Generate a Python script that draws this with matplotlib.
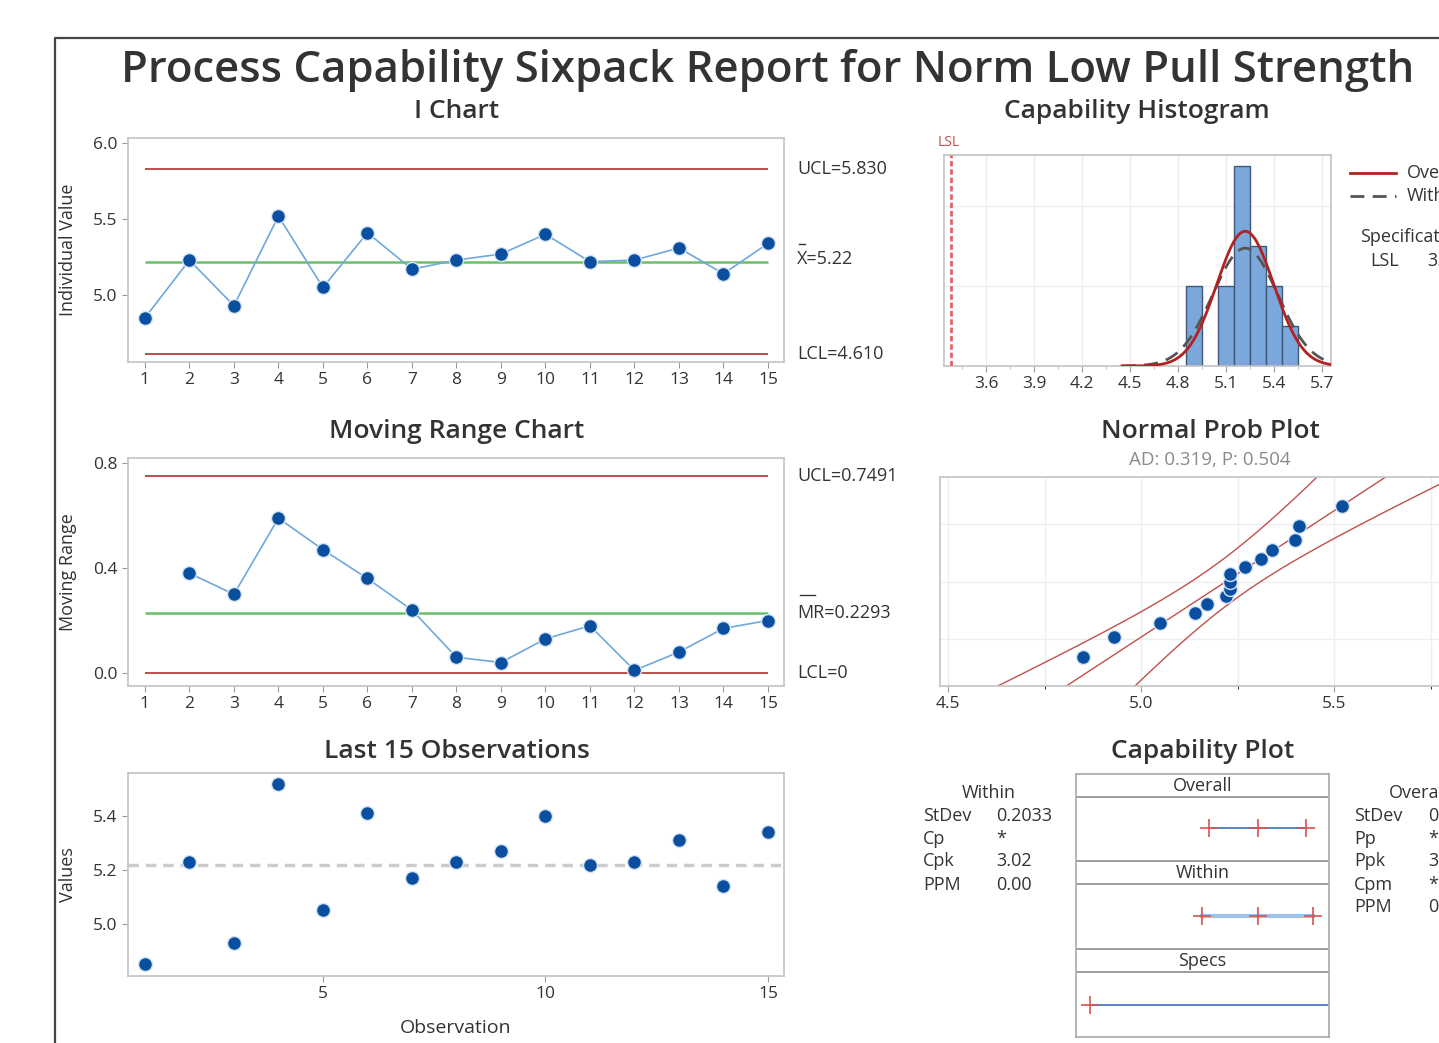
import statistics
import numpy as np
import matplotlib
matplotlib.use('Agg')
import matplotlib.pyplot as plt
from matplotlib.lines import Line2D
from matplotlib import transforms

plt.rcParams['font.family'] = ['Open Sans', 'DejaVu Sans']

# ---- data ----
obs = np.arange(1, 16)
values = [4.85, 5.23, 4.93, 5.52, 5.05, 5.41, 5.17, 5.23, 5.27, 5.40, 5.22, 5.23, 5.31, 5.14, 5.34]
mr_obs = np.arange(2, 16)
moving_range = [0.38, 0.30, 0.59, 0.47, 0.36, 0.24, 0.06, 0.04, 0.13, 0.18, 0.01, 0.08, 0.17, 0.20]

xbar, ucl_i, lcl_i = 5.22, 5.830, 4.610
mr_bar, ucl_mr, lcl_mr = 0.2293, 0.7491, 0.0
lsl = 3.38
sd_within, sd_overall = 0.2033, 0.1778
ad_text = 'AD: 0.319, P: 0.504'
within_stats = [('StDev', '0.2033'), ('Cp', '*'), ('Cpk', '3.02'), ('PPM', '0.00')]
overall_stats = [('StDev', '0.1778'), ('Pp', '*'), ('Ppk', '3.45'), ('Cpm', '*'), ('PPM', '0.00')]
hist_ticks = [3.6, 3.9, 4.2, 4.5, 4.8, 5.1, 5.4, 5.7]

W, H = 1439, 1043
DARK = '#333333'
RED = '#b5413a'
GREEN = '#6abf69'
BLUE_LINE = '#6fa8dc'
DOT = '#0a4ea0'
TITLE = 19
LAB = 13


def box(l, t, r, b):
  return [l / W, 1 - b / H, (r - l) / W, (b - t) / H]


def ft(x, y, s, **kw):
  kw.setdefault('color', DARK)
  kw.setdefault('va', 'center')
  return fig.text(x / W, 1 - y / H, s, **kw)


def style(ax, size=12.5):
  for sp in ax.spines.values():
    sp.set_color('#c4c4c4')
    sp.set_linewidth(1.2)
  ax.tick_params(colors=DARK, labelsize=size, length=4, width=0.8)
  ax.tick_params(color='#9a9a9a')


fig = plt.figure(figsize=(W / 100, H / 100), dpi=100)
fig.patch.set_facecolor('white')

# frame of the report window
fig.add_artist(Line2D([55 / W, 55 / W, 1.01], [-0.01, 1 - 38 / H, 1 - 38 / H],
                      transform=fig.transFigure, color='#444444', lw=1.6))

ft(768, 70, 'Process Capability Sixpack Report for Norm Low Pull Strength',
   ha='center', fontsize=31.5, fontweight='semibold')

# ---------- I chart ----------
ax1 = fig.add_axes(box(128, 138, 784, 362))
style(ax1)
ax1.hlines([ucl_i, lcl_i], 1, 15, color=RED, lw=1.3)
ax1.hlines(xbar, 1, 15, color=GREEN, lw=1.8)
ax1.plot(obs, values, color=BLUE_LINE, lw=1.2, marker='o', ms=10,
         mfc=DOT, mec='#d6e4f5', mew=1, zorder=3)
ax1.set_xlim(0.62, 15.36)
ax1.set_ylim(4.56, 6.033)
ax1.set_xticks(obs)
ax1.set_yticks([5.0, 5.5, 6.0])
ax1.set_yticklabels(['5.0', '5.5', '6.0'])
ax1.set_ylabel('Individual Value', fontsize=LAB, color=DARK)
ax1.yaxis.set_label_coords(-0.078, 0.5)
ft(457, 111, 'I Chart', ha='center', fontsize=TITLE, fontweight='semibold')
tr1 = transforms.blended_transform_factory(ax1.transAxes, ax1.transData)
ax1.text(1.0198, ucl_i, 'UCL=%.3f' % ucl_i, transform=tr1, va='center', fontsize=LAB, color=DARK)
ax1.text(1.0198, xbar + 0.02, 'X=%.2f' % xbar, transform=tr1, va='center', fontsize=LAB, color=DARK)
ax1.text(1.0198, lcl_i, 'LCL=%.3f' % lcl_i, transform=tr1, va='center', fontsize=LAB, color=DARK)
fig.add_artist(Line2D([799 / W, 805 / W], [1 - 244 / H] * 2, transform=fig.transFigure,
                      color=DARK, lw=1))

# ---------- Moving range chart ----------
ax2 = fig.add_axes(box(128, 458, 784, 686))
style(ax2)
ax2.hlines([ucl_mr, lcl_mr], 1, 15, color=RED, lw=1.3)
ax2.hlines(mr_bar, 1, 15, color=GREEN, lw=1.8)
ax2.plot(mr_obs, moving_range, color=BLUE_LINE, lw=1.2, marker='o', ms=10,
         mfc=DOT, mec='#d6e4f5', mew=1, zorder=3)
ax2.set_xlim(0.62, 15.36)
ax2.set_ylim(-0.0495, 0.819)
ax2.set_xticks(obs)
ax2.set_yticks([0.0, 0.4, 0.8])
ax2.set_yticklabels(['0.0', '0.4', '0.8'])
ax2.set_ylabel('Moving Range', fontsize=LAB, color=DARK)
ax2.yaxis.set_label_coords(-0.078, 0.5)
ft(457, 432, 'Moving Range Chart', ha='center', fontsize=TITLE, fontweight='semibold')
tr2 = transforms.blended_transform_factory(ax2.transAxes, ax2.transData)
ax2.text(1.0198, ucl_mr, 'UCL=%.4f' % ucl_mr, transform=tr2, va='center', fontsize=LAB, color=DARK)
ax2.text(1.0198, mr_bar, 'MR=%.4f' % mr_bar, transform=tr2, va='center', fontsize=LAB, color=DARK)
ax2.text(1.0198, lcl_mr, 'LCL=0', transform=tr2, va='center', fontsize=LAB, color=DARK)
fig.add_artist(Line2D([800 / W, 815 / W], [1 - 595 / H] * 2, transform=fig.transFigure,
                      color=DARK, lw=1))

# ---------- Last 15 observations ----------
ax3 = fig.add_axes(box(128, 773, 784, 976))
style(ax3)
ax3.axhline(xbar, color='#cccccc', ls=(0, (3, 2)), lw=2.5)
ax3.plot(obs, values, ls='none', marker='o', ms=10, mfc=DOT, mec='#d6e4f5', mew=1, zorder=3)
ax3.set_xlim(0.618, 15.36)
ax3.set_ylim(4.807, 5.559)
ax3.set_xticks([5, 10, 15])
ax3.set_yticks([5.0, 5.2, 5.4])
ax3.set_yticklabels(['5.0', '5.2', '5.4'])
ax3.set_ylabel('Values', fontsize=LAB, color=DARK)
ax3.yaxis.set_label_coords(-0.078, 0.5)
ax3.set_xlabel('Observation', fontsize=14, color=DARK)
ax3.xaxis.set_label_coords(0.5, -0.21)
ft(457, 752, 'Last 15 Observations', ha='center', fontsize=TITLE, fontweight='semibold')

# ---------- Capability histogram ----------
ax4 = fig.add_axes(box(944, 155, 1331, 366))
style(ax4)
hist_edges = 4.848 + 0.1 * np.arange(8)
ax4.hist(values, bins=hist_edges, color='#7ba7da', edgecolor='#3f5878', lw=1, zorder=2)
xs = np.linspace(4.45, 5.8, 300)
scale = len(values) * 0.1
ov = scale * np.exp(-0.5 * ((xs - xbar) / sd_overall) ** 2) / (sd_overall * np.sqrt(2 * np.pi))
wi = scale * np.exp(-0.5 * ((xs - xbar) / sd_within) ** 2) / (sd_within * np.sqrt(2 * np.pi))
ax4.plot(xs, wi, color='#555555', ls=(0, (5, 3)), lw=2, zorder=3)
ax4.plot(xs, ov, color='#b22222', lw=2, zorder=4)
ax4.axvline(lsl, color='#e06666', ls=(0, (2, 1)), lw=2, zorder=3)
ax4.set_xlim(3.3375, 5.756)
ax4.set_ylim(0, 5.27)
ax4.set_xticks(hist_ticks)
ax4.set_xticklabels(['%.1f' % t for t in hist_ticks])
ax4.set_xticks(np.arange(3.45, 5.75, 0.15), minor=True)
ax4.tick_params(axis='x', which='minor', length=2, color='#bbbbbb')
ax4.set_yticks([2, 4])
ax4.tick_params(axis='y', length=0, labelleft=False)
ax4.grid(True, color='#eeeeee', lw=1, zorder=0)
ax4.set_axisbelow(True)
ft(1137, 111, 'Capability Histogram', ha='center', fontsize=TITLE, fontweight='semibold')
ft(938, 143, 'LSL', fontsize=10, color='#c0504d')
fig.add_artist(Line2D([1350 / W, 1396 / W], [1 - 173 / H] * 2, transform=fig.transFigure,
                      color='#b22222', lw=2))
fig.add_artist(Line2D([1350 / W, 1396 / W], [1 - 196 / H] * 2, transform=fig.transFigure,
                      color='#555555', lw=2, ls=(0, (5, 3))))
ft(1407, 173, 'Overall', fontsize=LAB)
ft(1407, 196, 'Within', fontsize=LAB)
ft(1360, 237, 'Specifications', fontsize=LAB)
ft(1370, 261, 'LSL', fontsize=LAB)
ft(1427, 261, '%.2f' % lsl, fontsize=LAB)

# ---------- Normal probability plot ----------
ax5 = fig.add_axes(box(940, 477, 1480, 686))
style(ax5)
n = len(values)
nd = statistics.NormalDist()
zq = [nd.inv_cdf((i - 0.3) / (n + 0.4)) for i in range(1, n + 1)]
zz = np.linspace(-2.6, 2.6, 200)
fit = xbar + zz * sd_overall
half = 1.96 * sd_overall * np.sqrt(1.0 / n + zz ** 2 / (2 * (n - 1)))
for xx in (fit, fit - half, fit + half):
  ax5.plot(xx, zz, color='#c0504d', lw=1)
ax5.plot(sorted(values), zq, ls='none', marker='o', ms=10, mfc=DOT, mec='#d6e4f5', mew=1, zorder=3)
ax5.set_xlim(4.479, 5.878)
ax5.set_ylim(nd.inv_cdf(0.01), nd.inv_cdf(0.99))
ax5.set_xticks([4.5, 5.0, 5.5])
ax5.set_xticklabels(['4.5', '5.0', '5.5'])
ax5.set_xticks([4.75, 5.25, 5.75], minor=True)
ax5.set_yticks([nd.inv_cdf(p) for p in (0.1, 0.5, 0.9)])
ax5.tick_params(axis='y', length=0, labelleft=False)
ax5.tick_params(axis='x', which='minor', length=2)
ax5.grid(True, which='both', color='#eeeeee', lw=1, zorder=0)
ax5.set_axisbelow(True)
ft(1210, 432, 'Normal Prob Plot', ha='center', fontsize=TITLE, fontweight='semibold')
ft(1210, 460, ad_text, ha='center', fontsize=13.5, color='#8a8a8a')

# ---------- Capability plot ----------
ax6 = fig.add_axes(box(1076, 774, 1329, 1037))
for sp in ax6.spines.values():
  sp.set_color('#a8a8a8')
  sp.set_linewidth(1.2)
ax6.set_xlim(3.23, 6.0)
ax6.set_ylim(1, 0)
ax6.set_xticks([])
ax6.set_yticks([])
for yy in (0.0865, 0.330, 0.420, 0.665, 0.754):
  ax6.axhline(yy, color='#8c8c8c', lw=1.2)
for lab, yy in (('Overall', 0.045), ('Within', 0.375), ('Specs', 0.71)):
  ax6.text(0.5, 1 - yy, lab, transform=ax6.transAxes, ha='center', va='center',
           fontsize=LAB, color=DARK)
ov_pts = [xbar - 3 * sd_overall, xbar, xbar + 3 * sd_overall]
wi_pts = [xbar - 3 * sd_within, xbar, xbar + 3 * sd_within]
ax6.plot([ov_pts[0], ov_pts[-1]], [0.206, 0.206], color='#4a7ebb', lw=1.3)
ax6.plot(ov_pts, [0.206] * 3, ls='none', marker='+', ms=13, mew=1.2, color='#d9534f')
ax6.plot([wi_pts[0], wi_pts[-1]], [0.540, 0.540], color='#9dc3e6', lw=3)
ax6.plot(wi_pts, [0.540] * 3, ls='none', marker='+', ms=13, mew=1.2, color='#d9534f')
ax6.plot([lsl, 6.0], [0.879, 0.879], color='#4a7ebb', lw=1.3)
ax6.plot([lsl], [0.879], ls='none', marker='+', ms=13, mew=1.2, color='#d9534f')
ft(1203, 752, 'Capability Plot', ha='center', fontsize=TITLE, fontweight='semibold')

# stats tables
rows = [816, 839, 861, 885, 907]
ft(989, 793, 'Within', ha='center', fontsize=LAB)
for (lab, val), yy in zip(within_stats, rows):
  ft(923, yy, lab, fontsize=LAB)
  ft(996, yy, val, fontsize=LAB)
ft(1389, 793, 'Overall', fontsize=LAB)
for (lab, val), yy in zip(overall_stats, rows):
  ft(1354, yy, lab, fontsize=LAB)
  ft(1428, yy, val, fontsize=LAB)

fig.savefig('out.png', dpi=100, facecolor='white')
